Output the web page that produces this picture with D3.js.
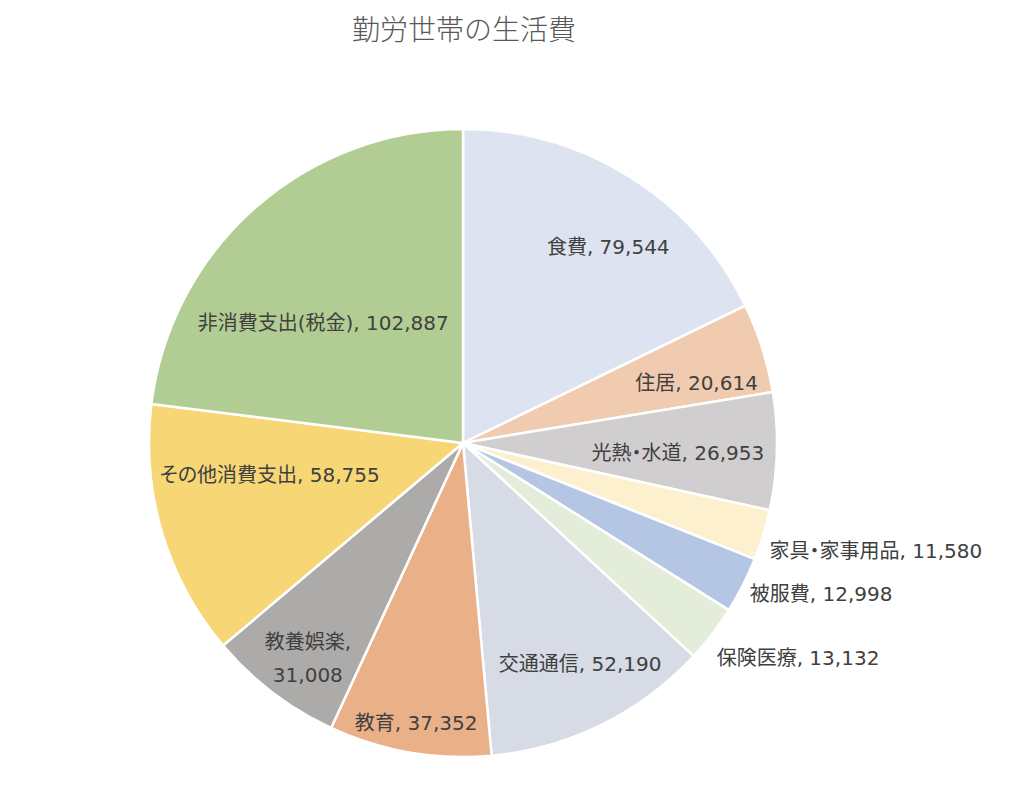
<!DOCTYPE html>
<html>
<head>
<meta charset="utf-8">
<script src="https://cdn.jsdelivr.net/npm/d3@7"></script>
<style>
  body { margin: 0; background: #fff; }
  svg text { font-family: "DejaVu Sans", "Noto Sans CJK JP", sans-serif; }
  svg text.lbl { font-feature-settings: "palt"; }
</style>
</head>
<body>
<svg id="chart"></svg>
<script>
const categories = ["食費", "住居", "光熱・水道", "家具・家事用品", "被服費", "保険医療",
  "交通通信", "教育", "教養娯楽", "その他消費支出", "非消費支出(税金)"]
const values = [79544, 20614, 26953, 11580, 12998, 13132, 52190, 37352, 31008, 58755, 102887]
const colors = ["#dde3f0", "#f1cbb0", "#d0cecf", "#fdf0cf", "#b5c6e5", "#e4edda",
  "#d6dbe5", "#eab189", "#adabaa", "#f7d676", "#b1cd93"]

// label placement: radius as a share of the pie radius, angle shift in degrees, anchor
const labelPlace = [
  { k: 0.777, shift: 4.5, anchor: "middle" },
  { k: 0.768, shift: 3.2, anchor: "middle" },
  { k: 0.685, shift: 1.2, anchor: "middle" },
  { k: 1.035, shift: 2.4, anchor: "start" },
  { k: 1.032, shift: 0.8, anchor: "start" },
  { k: 1.06, shift: 2.9, anchor: "start" },
  { k: 0.796, shift: -1.7, anchor: "middle" },
  { k: 0.904, shift: -0.3, anchor: "middle" },
  { k: 0.844, shift: -1.5, anchor: "middle", wrap: true },
  { k: 0.624, shift: 7.1, anchor: "middle" },
  { k: 0.586, shift: -8, anchor: "middle" },
]

const width = 1030, height = 798
const cx = 463, cy = 443, radius = 314

const svg = d3.select("#chart").attr("width", width).attr("height", height)

svg.append("text")
  .attr("x", 464)
  .attr("y", 40)
  .attr("text-anchor", "middle")
  .attr("font-size", 28)
  .attr("font-weight", 300)
  .attr("fill", "#595959")
  .style("font-family", "'Noto Sans CJK JP', sans-serif")
  .text("勤労世帯の生活費")

const data = categories.map((c, i) => ({ name: c, value: values[i], i }))

const pie = d3.pie().value(d => d.value).sort(null)
const arc = d3.arc().innerRadius(0).outerRadius(radius)
const fmt = d3.format(",")

const g = svg.append("g").attr("transform", `translate(${cx},${cy})`)

const arcs = pie(data)

g.selectAll("path")
  .data(arcs)
  .join("path")
  .attr("d", arc)
  .attr("fill", d => colors[d.data.i])
  .attr("stroke", "#fff")
  .attr("stroke-width", 2.5)
  .attr("stroke-linejoin", "round")

const labels = g.selectAll("text.lbl")
  .data(arcs)
  .join("text")
  .attr("class", "lbl")
  .attr("font-size", 20)
  .attr("fill", "#404040")
  .attr("text-anchor", d => labelPlace[d.data.i].anchor)
  .attr("dominant-baseline", "central")
  .attr("transform", d => {
    const p = labelPlace[d.data.i]
    const a = (d.startAngle + d.endAngle) / 2 + p.shift * Math.PI / 180
    const r = radius * p.k
    return `translate(${r * Math.sin(a)},${-r * Math.cos(a)})`
  })

labels.each(function (d) {
  const t = d3.select(this)
  const p = labelPlace[d.data.i]
  if (p.wrap) {
    t.append("tspan").attr("x", 0).attr("dy", "-0.8em").text(d.data.name + ",")
    t.append("tspan").attr("x", 0).attr("dy", "1.65em").text(fmt(d.data.value))
  } else {
    t.text(`${d.data.name}, ${fmt(d.data.value)}`)
  }
})
</script>
</body>
</html>
